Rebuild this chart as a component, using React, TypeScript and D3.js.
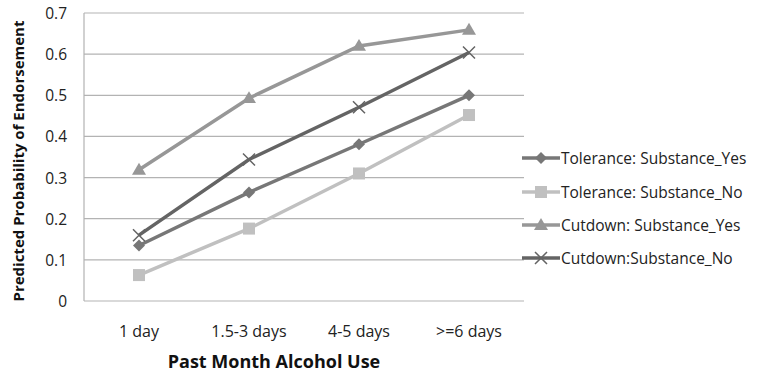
import React from "react";
import * as d3 from "d3";

const categories = ["1 day", "1.5-3 days", "4-5 days", ">=6 days"];
const toleranceYes = [0.135, 0.264, 0.381, 0.5];
const toleranceNo = [0.063, 0.176, 0.31, 0.452];
const cutdownYes = [0.319, 0.493, 0.62, 0.659];
const cutdownNo = [0.16, 0.344, 0.471, 0.604];
const yTicks = [0, 0.1, 0.2, 0.3, 0.4, 0.5, 0.6, 0.7];

const seriesNames = [
  "Tolerance: Substance_Yes",
  "Tolerance: Substance_No",
  "Cutdown: Substance_Yes",
  "Cutdown:Substance_No",
];

const W = 757, H = 379;
const left = 84, right = 524, top = 13, bottom = 301;
const font = "'Open Sans', 'Liberation Sans', sans-serif";

type Series = { name: string; values: number[]; color: string; marker: string };

const series: Series[] = [
  { name: seriesNames[0], values: toleranceYes, color: "#777777", marker: "diamond" },
  { name: seriesNames[1], values: toleranceNo, color: "#c0c0c0", marker: "square" },
  { name: seriesNames[2], values: cutdownYes, color: "#979797", marker: "triangle" },
  { name: seriesNames[3], values: cutdownNo, color: "#646464", marker: "x" },
];

function Marker({ type, x, y, color }: { type: string; x: number; y: number; color: string }) {
  if (type === "diamond") {
    const s = 6;
    return <path d={`M${x},${y - s}L${x + s},${y}L${x},${y + s}L${x - s},${y}Z`} fill={color} />;
  }
  if (type === "square") {
    const s = 6;
    return <rect x={x - s} y={y - s} width={2 * s} height={2 * s} fill={color} />;
  }
  if (type === "triangle") {
    const s = 7;
    return <path d={`M${x},${y - s}L${x + s},${y + s * 0.7}L${x - s},${y + s * 0.7}Z`} fill={color} />;
  }
  const s = 6;
  return (
    <path d={`M${x - s},${y - s}L${x + s},${y + s}M${x + s},${y - s}L${x - s},${y + s}`} stroke={color} strokeWidth={1.5} fill="none" />
  );
}

export default function App() {
  const x = d3.scaleBand<string>().domain(categories).range([left, right]);
  const y = d3.scaleLinear().domain([0, 0.7]).range([bottom, top]);
  const line = d3
    .line<number>()
    .x((_, i) => (x(categories[i]) as number) + x.bandwidth() / 2)
    .y((d) => y(d));

  const legendX = 522;
  const legendY = [158, 192, 225, 258];

  return (
    <svg width={W} height={H} style={{ position: "absolute", left: 0, top: 0 }}>
      <rect width={W} height={H} fill="#fff" />
      {yTicks.map((t) => (
        <line key={t} x1={left} x2={right} y1={y(t)} y2={y(t)} stroke="#b3b3b3" strokeWidth={1.2} />
      ))}
      <line x1={left} x2={left} y1={top} y2={bottom} stroke="#b3b3b3" strokeWidth={1.2} />
      {yTicks.map((t) => (
        <text key={t} x={67} y={y(t) + 6} textAnchor="end" fontSize={15.5} fontFamily={font} fill="#222">
          {d3.format("")(t)}
        </text>
      ))}
      {categories.map((c) => (
        <text key={c} x={(x(c) as number) + x.bandwidth() / 2} y={337} textAnchor="middle" fontSize={16} fontFamily={font} fill="#222">
          {c}
        </text>
      ))}
      <text x={274} y={368} textAnchor="middle" fontSize={18} fontWeight="bold" fontFamily={font} fill="#111">
        Past Month Alcohol Use
      </text>
      <text transform={`translate(24,161) rotate(-90)`} textAnchor="middle" fontSize={15} fontWeight="bold" fontFamily={font} fill="#111">
        Predicted Probability of Endorsement
      </text>
      {series.map((s) => (
        <g key={s.name}>
          <path d={line(s.values) || ""} fill="none" stroke={s.color} strokeWidth={3.5} />
          {s.values.map((v, i) => (
            <Marker key={i} type={s.marker} x={(x(categories[i]) as number) + x.bandwidth() / 2} y={y(v)} color={s.color} />
          ))}
        </g>
      ))}
      {series.map((s, i) => (
        <g key={s.name}>
          <line x1={legendX} x2={legendX + 38} y1={legendY[i]} y2={legendY[i]} stroke={s.color} strokeWidth={3.5} />
          <Marker type={s.marker} x={legendX + 19} y={legendY[i]} color={s.color} />
          <text x={legendX + 39} y={legendY[i] + 6} fontSize={15.5} fontFamily={font} fill="#222">
            {s.name}
          </text>
        </g>
      ))}
    </svg>
  );
}
